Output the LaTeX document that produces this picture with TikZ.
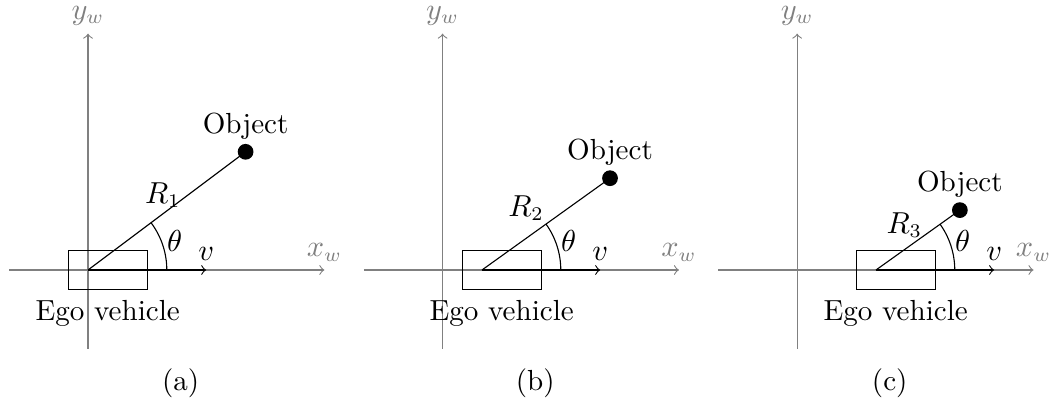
\documentclass[tikz,border=0pt]{standalone}
\usepackage{amsmath}
\usepackage{tikz}
\usetikzlibrary{positioning}

\begin{document}
\begin{tikzpicture}[
  x=0.5cm,y=0.5cm,
  font=\fontsize{10.5pt}{12.6pt}\selectfont,
  axis/.style={->,gray},
  car/.style={rectangle,draw,minimum width=1cm,minimum height=0.5cm,inner sep=0pt},
  dot/.style={circle,fill,inner sep=0pt,minimum size=0.2cm},
  axlabel/.style={above=2.9pt,inner sep=0pt,text=gray}
]
  \useasboundingbox (-2.234,-3.249) rectangle (24.57,6.853);

  % (a) ego vehicle at the origin
  \begin{scope}
    \draw[axis] (-2,0) -- (6,0) node[axlabel] (xa) {$x_w$};
    \draw[axis] (0,-2) -- (0,6) node[axlabel] (ya) {$y_w$};
    \coordinate (ega) at (0,0);
    \coordinate (va) at (3,0);
    \node[car] (cara) at (0.5,0) {};
    \node[below=0pt of cara] (egolaba) {Ego vehicle};
    \node[dot] (obja) at (4,3) {};
    \node[above=-2pt of obja] (objlaba) {Object};
    \draw (ega) -- (obja.center);
    \draw[->] (ega) -- (va) node[above] (vlaba) {$v$};
    \draw (2,0) arc[start angle=0,end angle=36.87,radius=2];
    \node (tha) at (2.2,0.74) {$\theta$};
    \node (ra) at (1.9,1.9) {$R_1$};
    \node (capa) at (2.35,-2.87) {(a)};
  \end{scope}

  % (b) ego vehicle moved forward
  \begin{scope}[shift={(9,0)}]
    \draw[axis] (-2,0) -- (6,0) node[axlabel] (xb) {$x_w$};
    \draw[axis] (0,-2) -- (0,6) node[axlabel] (yb) {$y_w$};
    \coordinate (egb) at (1,0);
    \coordinate (vb) at (4,0);
    \node[car] (carb) at (1.5,0) {};
    \node[below=0pt of carb] (egolabb) {Ego vehicle};
    \node[dot] (objb) at (4.25,2.33) {};
    \node[above=-2pt of objb] (objlabb) {Object};
    \draw (egb) -- (objb.center);
    \draw[->] (egb) -- (vb) node[above] (vlabb) {$v$};
    \draw (3,0) arc[start angle=0,end angle=35.6,radius=2];
    \node (thb) at (3.2,0.73) {$\theta$};
    \node (rb) at (2.12,1.57) {$R_2$};
    \node (capb) at (2.35,-2.87) {(b)};
  \end{scope}

  % (c) ego vehicle close to the object
  \begin{scope}[shift={(18,0)}]
    \draw[axis] (-2,0) -- (6,0) node[axlabel] (xc) {$x_w$};
    \draw[axis] (0,-2) -- (0,6) node[axlabel] (yc) {$y_w$};
    \coordinate (egc) at (2,0);
    \coordinate (vc) at (5,0);
    \node[car] (carc) at (2.5,0) {};
    \node[below=0pt of carc] (egolabc) {Ego vehicle};
    \node[dot] (objc) at (4.13,1.52) {};
    \node[above=-2pt of objc] (objlabc) {Object};
    \draw (egc) -- (objc.center);
    \draw[->] (egc) -- (vc) node[above] (vlabc) {$v$};
    \draw (4,0) arc[start angle=0,end angle=35.5,radius=2];
    \node (thc) at (4.2,0.73) {$\theta$};
    \node (rc) at (2.72,1.14) {$R_3$};
    \node (capc) at (2.35,-2.87) {(c)};
  \end{scope}
\end{tikzpicture}
\end{document}
